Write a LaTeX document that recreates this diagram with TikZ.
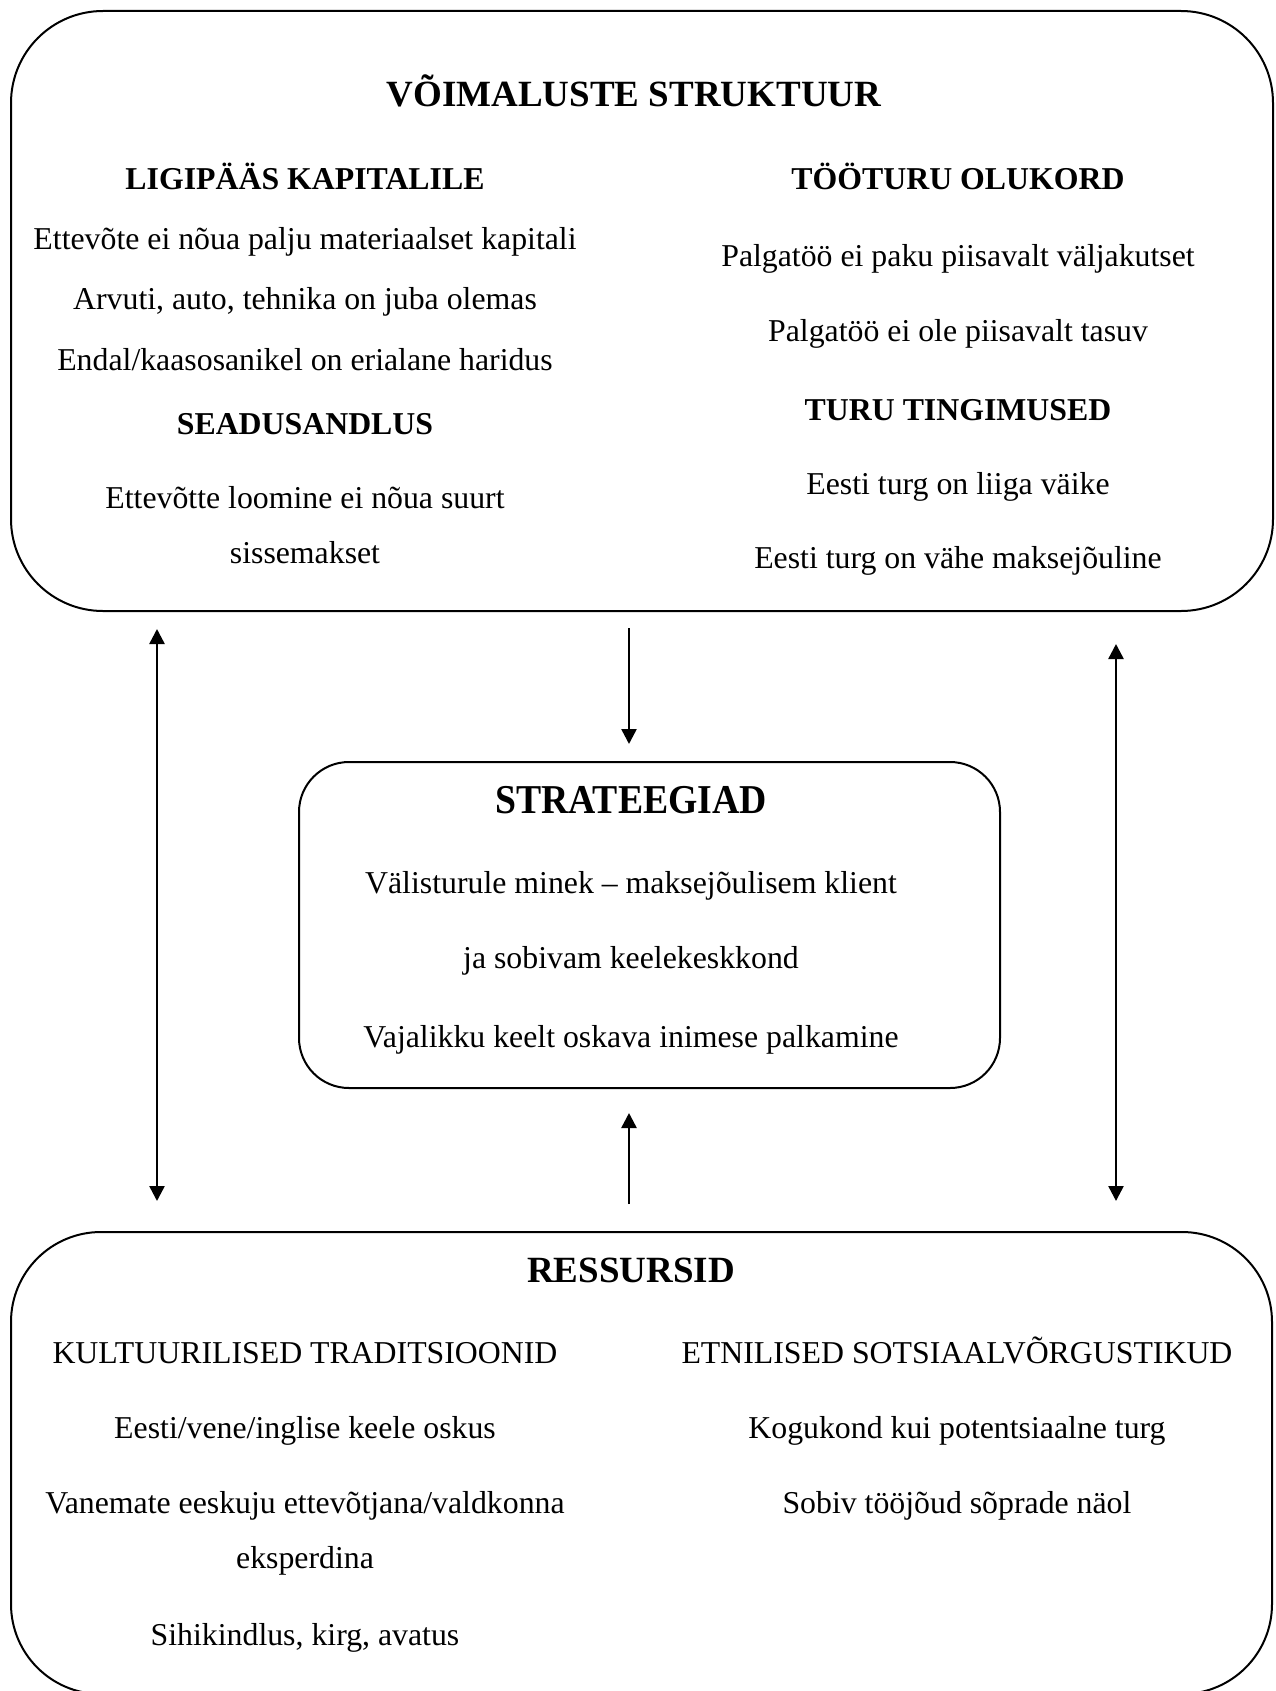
\documentclass[tikz,border=0pt]{standalone}
\usepackage{fontspec}
\setmainfont{Liberation Serif}
\usetikzlibrary{arrows.meta}

\begin{document}
\begin{tikzpicture}[x=1pt, y=-1pt,
  box/.style={draw, line width=2pt, inner sep=0pt},
  txt/.style={font=\fontsize{31.8}{36}\selectfont, inner sep=0pt, anchor=base},
  hd/.style={font=\bfseries\fontsize{31.8}{36}\selectfont, inner sep=0pt, anchor=base},
  ttl/.style={font=\bfseries\fontsize{37}{42}\selectfont, inner sep=0pt, anchor=base},
  >={Triangle[length=15pt, width=15pt]}, arr/.style={line width=2.5pt}]

\useasboundingbox (0,0) rectangle (1275,1691);

% upper box: voimaluste struktuur
\node[box, rounded corners=92pt, minimum width=1262pt, minimum height=600pt] (top) at (642,311) {};
\node[ttl] (vs) at (634,107) {VÕIMALUSTE STRUKTUUR};

\node[hd]  (lk)  at (305,189) {LIGIPÄÄS KAPITALILE};
\node[txt] (lk1) at (305,249) {Ettevõte ei nõua palju materiaalset kapitali};
\node[txt] (lk2) at (305,309) {Arvuti, auto, tehnika on juba olemas};
\node[txt] (lk3) at (305,370) {Endal/kaasosanikel on erialane haridus};
\node[hd]  (sd)  at (305,434) {SEADUSANDLUS};
\node[txt] (sd1) at (305,508) {Ettevõtte loomine ei nõua suurt};
\node[txt] (sd2) at (305,563) {sissemakset};

\node[hd]  (to)  at (958,189) {TÖÖTURU OLUKORD};
\node[txt] (to1) at (958,266) {Palgatöö ei paku piisavalt väljakutset};
\node[txt] (to2) at (958,341) {Palgatöö ei ole piisavalt tasuv};
\node[hd]  (tt)  at (958,420) {TURU TINGIMUSED};
\node[txt] (tt1) at (958,494) {Eesti turg on liiga väike};
\node[txt] (tt2) at (958,568) {Eesti turg on vähe maksejõuline};

% middle box: strateegiad
\node[box, rounded corners=50pt, minimum width=701pt, minimum height=326pt] (mid) at (649.5,925) {};
\node[ttl, font=\bfseries\fontsize{41}{46}\selectfont, xscale=0.92] (st) at (631,813) {STRATEEGIAD};
\node[txt] (st1) at (631,893) {Välisturule minek – maksejõulisem klient};
\node[txt] (st2) at (631,968) {ja sobivam keelekeskkond};
\node[txt] (st3) at (631,1047) {Vajalikku keelt oskava inimese palkamine};

% lower box: ressursid
\node[box, rounded corners=90pt, minimum width=1261pt, minimum height=462pt] (bot) at (641.5,1463) {};
\node[ttl] (rs) at (631,1282) {RESSURSID};

\node[txt] (kt)  at (305,1363) {KULTUURILISED TRADITSIOONID};
\node[txt] (kt1) at (305,1438) {Eesti/vene/inglise keele oskus};
\node[txt] (kt2) at (305,1513) {Vanemate eeskuju ettevõtjana/valdkonna};
\node[txt] (kt3) at (305,1568) {eksperdina};
\node[txt] (kt4) at (305,1645) {Sihikindlus, kirg, avatus};

\node[txt] (es)  at (957,1363) {ETNILISED SOTSIAALVÕRGUSTIKUD};
\node[txt] (es1) at (957,1438) {Kogukond kui potentsiaalne turg};
\node[txt] (es2) at (957,1513) {Sobiv tööjõud sõprade näol};

% arrow ends
\coordinate (la) at (157,629);
\coordinate (lb) at (157,1201);
\coordinate (ma) at (629,628);
\coordinate (mb) at (629,744);
\coordinate (ua) at (629,1204);
\coordinate (ub) at (629,1113);
\coordinate (ra) at (1116,644);
\coordinate (rb) at (1116,1201);

% arrows
\draw[arr, <->] (la) -- (lb);
\draw[arr, ->] (ma) -- (mb);
\draw[arr, ->] (ua) -- (ub);
\draw[arr, <->] (ra) -- (rb);

\end{tikzpicture}
\end{document}
